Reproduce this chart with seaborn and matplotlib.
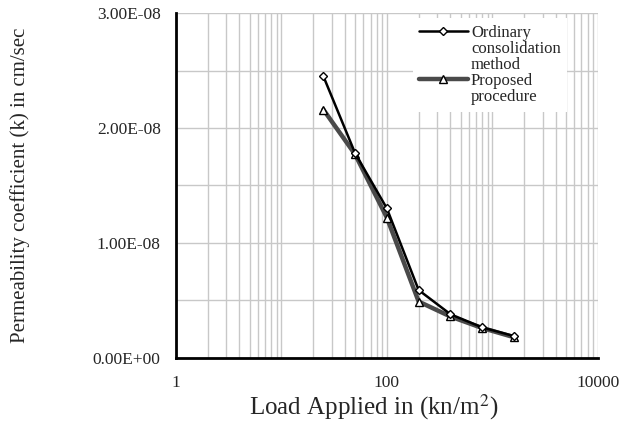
import numpy as np
import pandas as pd
import matplotlib
matplotlib.use("Agg")
import matplotlib.pyplot as plt
import seaborn as sns
from matplotlib.lines import Line2D
from matplotlib.ticker import FixedLocator, LogLocator, FuncFormatter, NullFormatter

# values
load = [25, 50, 100, 200, 400, 800, 1600]
k_ordinary = [2.45e-8, 1.78e-8, 1.30e-8, 0.59e-8, 0.38e-8, 0.265e-8, 0.19e-8]
k_proposed = [2.16e-8, 1.77e-8, 1.22e-8, 0.49e-8, 0.36e-8, 0.26e-8, 0.18e-8]
x_tick_labels = ["1", "100", "10000"]

df = pd.DataFrame({"load": load, "ordinary": k_ordinary, "proposed": k_proposed})

sns.set_theme(style="white")
plt.rcParams["font.family"] = ["Liberation Serif", "DejaVu Serif"]
plt.rcParams["mathtext.fontset"] = "stix"

fig = plt.figure(figsize=(6.24, 4.22), dpi=100)
ax = fig.add_axes([0.282, 0.152, 0.676, 0.817])

grid_color = "#c8c8c8"

sns.lineplot(data=df, x="load", y="proposed", ax=ax, color="#4a4a4a", linewidth=3.2,
             marker="^", markersize=6, markerfacecolor="white", markeredgecolor="black",
             markeredgewidth=1.0, legend=False, zorder=3)
sns.lineplot(data=df, x="load", y="ordinary", ax=ax, color="black", linewidth=1.8,
             marker="D", markersize=4.5, markerfacecolor="white", markeredgecolor="black",
             markeredgewidth=1.0, legend=False, zorder=4)

ax.set_xscale("log")
ax.set_xlim(1, 10000)
ax.set_ylim(0, 3e-8)

ax.xaxis.set_major_locator(FixedLocator([1, 10, 100, 1000, 10000]))
ax.xaxis.set_major_formatter(FuncFormatter(
    lambda v, p: {1: x_tick_labels[0], 100: x_tick_labels[1], 10000: x_tick_labels[2]}.get(int(round(v)), "")))
ax.xaxis.set_minor_locator(LogLocator(base=10, subs=np.arange(2, 10), numticks=20))
ax.xaxis.set_minor_formatter(NullFormatter())

ax.yaxis.set_major_locator(FixedLocator([0, 1e-8, 2e-8, 3e-8]))
ax.yaxis.set_major_formatter(FuncFormatter(lambda v, p: f"{v:.2E}"))
ax.yaxis.set_minor_locator(FixedLocator([0.5e-8, 1.5e-8, 2.5e-8]))

ax.grid(True, which="both", color=grid_color, linewidth=1.0)
ax.tick_params(which="both", length=0)
ax.tick_params(axis="y", labelsize=12.5, pad=11)
ax.tick_params(axis="x", labelsize=12.5, pad=12)
ax.yaxis.get_offset_text().set_visible(False)

for side in ["top", "right"]:
    ax.spines[side].set_visible(False)
for side in ["left", "bottom"]:
    ax.spines[side].set_color("black")
    ax.spines[side].set_linewidth(2.0)

ax.set_xlabel("Load Applied in (kn/m$^2$)", fontsize=18, labelpad=1)
ax.xaxis.label.set_x(0.469)
ax.set_ylabel("Permeability coefficient (k) in cm/sec", fontsize=15, labelpad=45)

# legend built line by line so the marker sits beside the first line of text
h_ord = Line2D([], [], color="black", linewidth=1.8, marker="D", markersize=4.5,
               markerfacecolor="white", markeredgecolor="black")
h_pro = Line2D([], [], color="#4a4a4a", linewidth=3.2, marker="^", markersize=6,
               markerfacecolor="white", markeredgecolor="black")
blank = Line2D([], [], color="none")
leg = ax.legend([h_ord, blank, blank, h_pro, blank],
                ["Ordinary", "consolidation", "method", "Proposed", "procedure"],
                loc="upper left", bbox_to_anchor=(0.561, 0.985), fontsize=12,
                frameon=True, fancybox=False, framealpha=1, facecolor="white",
                edgecolor="none", handlelength=2.9, handletextpad=0.2,
                labelspacing=0.0, borderpad=0.4, borderaxespad=0)
leg.set_zorder(5)

fig.savefig("out.png", dpi=100)
